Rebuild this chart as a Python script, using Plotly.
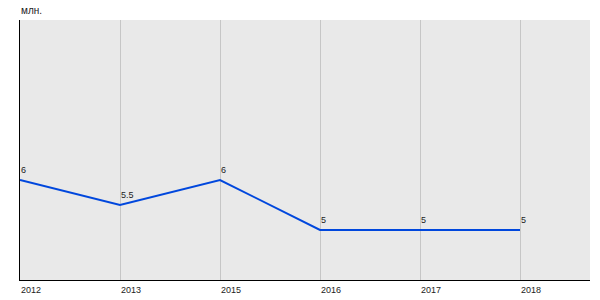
import plotly.graph_objects as go

years = ["2012", "2013", "2015", "2016", "2017", "2018"]
values = [6, 5.5, 6, 5, 5, 5]
labels = ["6", "5.5", "6", "5", "5", "5"]
unit = "млн."

xs = list(range(len(years)))

fig = go.Figure()
fig.add_trace(go.Scatter(
    x=xs, y=values, mode="lines", line=dict(color="#0047dd", width=2),
    hoverinfo="skip", showlegend=False, cliponaxis=False,
))
for i, (v, t) in enumerate(zip(values, labels)):
    fig.add_annotation(x=i, y=v, text=t, showarrow=False, xanchor="left", yanchor="bottom",
                       xshift=-1, yshift=3, font=dict(family="Liberation Sans, Arial", size=9, color="#222"))
for i, y in enumerate(years):
    fig.add_annotation(x=i, y=0, yref="paper", text=y, showarrow=False, xanchor="left", yanchor="top",
                       xshift=-1, yshift=-3, font=dict(family="Liberation Sans, Arial", size=9, color="#222"))
fig.add_annotation(x=0, y=1, xref="paper", yref="paper", text=unit, showarrow=False,
                   xanchor="left", yanchor="bottom", yshift=2, xshift=-1,
                   font=dict(family="Liberation Sans, Arial", size=10, color="#222"))

fig.update_layout(
    width=600, height=300,
    margin=dict(l=20, r=10, t=20, b=20),
    paper_bgcolor="white", plot_bgcolor="#e9e9e9",
    xaxis=dict(range=[0, 5.7], tickvals=xs, showticklabels=False, showgrid=True,
               gridcolor="#c6c6c6", gridwidth=1, zeroline=False, showline=True,
               linecolor="black", linewidth=1, fixedrange=True),
    yaxis=dict(range=[4, 9.2], showticklabels=False, showgrid=False, zeroline=False,
               showline=True, linecolor="black", linewidth=1, fixedrange=True),
)
fig.write_html("out.html")
